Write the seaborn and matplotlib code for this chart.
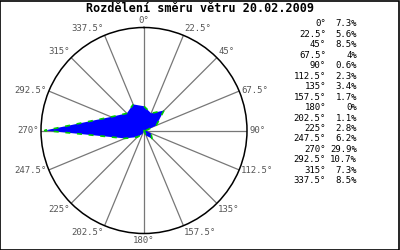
import numpy as np
import pandas as pd
import matplotlib
matplotlib.use("Agg")
import matplotlib.pyplot as plt
import seaborn as sns

directions = [0, 22.5, 45, 67.5, 90, 112.5, 135, 157.5, 180, 202.5, 225, 247.5, 270, 292.5, 315, 337.5]
dir_labels = ["0°", "22.5°", "45°", "67.5°", "90°", "112.5°", "135°", "157.5°", "180°",
              "202.5°", "225°", "247.5°", "270°", "292.5°", "315°", "337.5°"]
percents = [7.3, 5.6, 8.5, 4, 0.6, 2.3, 3.4, 1.7, 0, 1.1, 2.8, 6.2, 29.9, 10.7, 7.3, 8.5]
pct_labels = ["7.3%", "5.6%", "8.5%", "4%", "0.6%", "2.3%", "3.4%", "1.7%", "0%",
              "1.1%", "2.8%", "6.2%", "29.9%", "10.7%", "7.3%", "8.5%"]
title = "Rozdělení směru větru 20.02.2009"

sns.set_style("white")
plt.rcParams['font.family'] = ['DejaVu Sans Mono', 'DejaVu Sans']

RMAX = 31

fig = plt.figure(figsize=(4, 2.5), dpi=100)
fig.patch.set_facecolor("white")
ax = fig.add_axes([0.1025, 0.066, 0.515, 0.824], projection="polar")
ax.set_theta_zero_location("N")
ax.set_theta_direction(-1)

df = pd.DataFrame({
    "theta": np.deg2rad(directions + [directions[0]]),
    "r": percents + [percents[0]],
})
ax.fill(df["theta"], df["r"], color="#0000ff", zorder=3, linewidth=0)
sns.lineplot(data=df, x="theta", y="r", sort=False, ax=ax, color="#00cc00",
             linewidth=1.2, linestyle=(0, (3, 4)), zorder=4)
ax.set_xlabel("")
ax.set_ylabel("")

ax.set_ylim(0, RMAX)
ax.set_rgrids([])
ax.set_yticklabels([])
ax.set_thetagrids(directions, [""] * len(directions))
ax.xaxis.grid(True, color="#777777", linewidth=0.9)
ax.yaxis.grid(False)
ax.spines["polar"].set_color("black")
ax.spines["polar"].set_linewidth(1.1)
ax.set_facecolor("white")

for d, lab in zip(directions, dir_labels):
    s = np.sin(np.deg2rad(d))
    c = np.cos(np.deg2rad(d))
    ha = "left" if s > 0.01 else ("right" if s < -0.01 else "center")
    va = "bottom" if c > 0.5 else ("top" if c < -0.5 else "center")
    ax.annotate(lab, xy=(np.deg2rad(d), RMAX), xytext=(1.5 * s, 1.5 * c),
                textcoords="offset points", ha=ha, va=va, fontsize=6.5,
                color="#555555", annotation_clip=False)

fig.text(0.5, 0.964, title, ha="center", va="center", fontsize=8.5, fontweight="bold", color="black")

for i, (dl, pl) in enumerate(zip(dir_labels, pct_labels)):
    y = 1 - (24 + i * 10.45) / 250
    fig.text(326 / 400, y, dl, ha="right", va="center", fontsize=6.5, color="black")
    fig.text(357 / 400, y, pl, ha="right", va="center", fontsize=6.5, color="black")

fig.add_artist(plt.Rectangle((0.001, 0.002), 0.997, 0.995, transform=fig.transFigure,
                             fill=False, edgecolor="black", linewidth=1.2))

fig.savefig("out.png", dpi=100)
